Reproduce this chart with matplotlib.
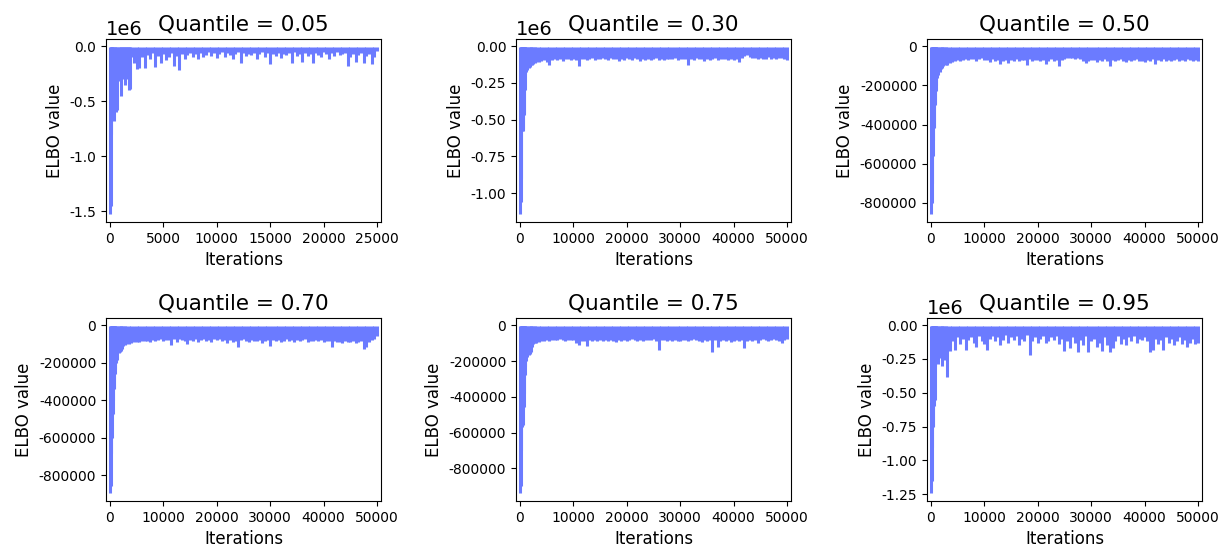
import numpy as np
import matplotlib
matplotlib.use("Agg")
import matplotlib.pyplot as plt

plt.rcParams['axes.unicode_minus'] = False

# ELBO traces, values in thousands.
# each panel: iterations where a reading was taken, lowest value there,
# and the flat top of the trace.
quantiles = ["0.05", "0.30", "0.50", "0.70", "0.75", "0.95"]

iters_25k = np.concatenate([
    [0, 50, 100, 150, 200, 300, 400, 500, 600, 700, 800, 900, 1000, 1100,
     1200, 1300, 1400, 1500, 1600, 1700, 1800, 1900, 2000, 2250, 2500, 2750, 3000],
    np.arange(3250, 25001, 250)])
iters_50k = np.concatenate([
    [0, 100, 200, 300, 400, 500, 600, 700, 800, 900, 1000, 1200, 1400, 1600,
     1800, 2000, 2250, 2500, 2750, 3000],
    np.arange(3500, 50001, 500)])

dips_005 = [-1520, -1450, -800, -650, -620, -300, -680, -560, -600, -580, -250, -320, -450, -200,
            -300, -180, -350, -250, -200, -300, -400, -390, -100, -150, -210, -200, -100,
            -200, -80, -120, -60, -190, -90, -150, -70, -130, -100, -60, -180, -90, -220, -70, -120, -80, -60, -100, -70,
            -120, -60, -100, -80, -50, -90, -60, -110, -70, -50, -100, -60, -80, -120, -70, -50, -150, -60, -90, -70,
            -80, -60, -120, -70, -50, -100, -60, -160, -70, -90, -60, -110, -70, -80, -60, -150, -50, -90, -70, -140,
            -60, -90, -70, -150, -60, -80, -100, -50, -70, -120, -60, -90, -50, -80, -70, -60, -180, -100, -70, -140,
            -80, -60, -150, -90, -70, -160, -100, -40]
dips_030 = [-1140, -1060, -900, -580, -570, -575, -560, -470, -455, -300, -190, -175, -160, -150, -140, -130, -125, -120, -115, -110,
            -108, -100, -95, -105, -130, -95, -88, -92, -85, -98, -90, -86, -94, -88,
            -95, -132, -90, -85, -92, -88, -80, -95, -84, -90, -78, -88, -95, -82, -90, -86, -100, -84, -92, -80,
            -88, -95, -82, -90, -100, -85, -92, -84, -96, -88, -80, -92, -86, -95, -84, -90, -88, -82, -94, -86,
            -90, -84, -128, -88, -95, -82, -90, -86, -100, -84, -92, -88, -80, -94, -86, -90, -84, -96, -88, -92,
            -85, -105, -80, -70, -62, -75, -82, -78, -88, -80, -85, -90, -76, -84, -80, -86, -78, -82, -88, -95]
dips_050 = [-855, -800, -700, -560, -480, -420, -415, -300, -290, -230, -200, -165, -145, -130, -118, -110, -100, -92, -98, -95,
            -88, -82, -78, -72, -75, -70, -68, -72, -66, -65, -74, -68, -62, -70,
            -72, -80, -68, -75, -70, -92, -78, -72, -85, -70, -74, -68, -76, -72, -70, -95, -66, -74, -70, -72,
            -78, -70, -90, -74, -68, -76, -72, -100, -70, -66, -60, -58, -62, -66, -60, -68, -76, -88, -74, -70,
            -72, -80, -70, -76, -68, -74, -102, -70, -78, -72, -66, -74, -80, -70, -76, -72, -68, -78, -74, -82,
            -70, -76, -68, -90, -72, -74, -66, -78, -70, -74, -72, -68, -76, -70, -74, -66, -72, -78, -70, -74]
dips_070 = [-894, -860, -680, -600, -480, -475, -400, -340, -335, -260, -235, -200, -185, -150, -145, -140, -125, -110, -105, -100,
            -98, -95, -92, -88, -90, -86, -85, -82, -90, -80, -84, -78, -76, -82,
            -80, -78, -105, -72, -88, -76, -80, -85, -100, -78, -82, -74, -88, -80, -76, -84, -78, -90, -72, -80,
            -76, -84, -80, -95, -78, -88, -82, -118, -80, -76, -84, -90, -78, -82, -86, -80, -95, -82, -78, -110,
            -80, -84, -78, -88, -82, -76, -85, -80, -88, -78, -84, -80, -76, -90, -82, -86, -80, -84, -78, -88,
            -82, -86, -115, -84, -90, -88, -95, -86, -92, -88, -84, -96, -90, -86, -128, -118, -88, -80, -72, -55]
dips_075 = [-936, -900, -700, -570, -565, -560, -470, -455, -380, -280, -230, -200, -180, -165, -158, -150, -120, -105, -100, -98,
            -95, -90, -88, -85, -86, -82, -80, -84, -78, -82, -88, -80, -85, -82,
            -100, -112, -86, -90, -115, -84, -88, -82, -86, -80, -90, -84, -88, -82, -86, -92, -84, -88, -82, -86,
            -80, -78, -84, -88, -82, -86, -80, -84, -82, -78, -88, -138, -84, -80, -86, -82, -88, -84, -86, -90,
            -84, -80, -86, -82, -76, -84, -88, -95, -82, -86, -80, -148, -84, -120, -86, -82, -88, -84, -92, -86,
            -84, -88, -82, -125, -86, -80, -90, -84, -100, -82, -78, -84, -88, -80, -76, -84, -90, -98, -80, -75]
dips_095 = [-1240, -1150, -900, -750, -745, -600, -560, -555, -300, -160, -250, -160, -290, -240, -200, -300, -250, -260, -200, -380,
            -190, -120, -180, -90, -140, -100, -180, -110, -90, -130, -160, -80, -120, -140,
            -180, -100, -80, -120, -90, -150, -110, -70, -130, -90, -110, -80, -150, -100, -120, -70, -220, -120, -90, -130,
            -100, -80, -130, -120, -90, -110, -80, -140, -100, -190, -120, -170, -90, -130, -200, -110, -150, -80, -200, -120,
            -100, -160, -130, -190, -90, -150, -200, -170, -120, -80, -140, -100, -150, -90, -120, -80, -130, -100, -110, -90,
            -120, -200, -180, -100, -140, -110, -180, -90, -130, -100, -150, -120, -90, -140, -110, -160, -130, -100, -140, -130]

tops = [-11, -8, -6, -6, -6, -8]
all_iters = [iters_25k, iters_50k, iters_50k, iters_50k, iters_50k, iters_50k]
all_dips = [dips_005, dips_030, dips_050, dips_070, dips_075, dips_095]
sci = [True, True, False, False, False, True]

fig = plt.figure(figsize=(12.21, 5.48), dpi=100)
lefts = [0.0868, 0.4226, 0.7592]
bottoms = [0.5949, 0.0858]
w, h = 0.2252, 0.3339

for k in range(6):
    ax = fig.add_axes([lefts[k % 3], bottoms[k // 3], w, h])
    it = np.asarray(all_iters[k])
    dip = np.asarray(all_dips[k]) * 1000.0
    # the trace swings between the top and the lowest reading at each step
    ax.vlines(it, dip, tops[k] * 1000.0, color='#6b7bff', lw=2.2)
    ax.margins(x=0.015, y=0.05)
    ax.set_title("Quantile = " + quantiles[k], fontsize=15.5)
    ax.set_xlabel("Iterations", fontsize=12)
    ax.set_ylabel("ELBO value", fontsize=12)
    ax.tick_params(labelsize=10)
    if sci[k]:
        ax.ticklabel_format(axis='y', style='sci', scilimits=(0, 0))
        ax.yaxis.get_offset_text().set_fontsize(14)
    else:
        ax.ticklabel_format(axis='y', style='plain')

fig.savefig("out.png", dpi=100)
